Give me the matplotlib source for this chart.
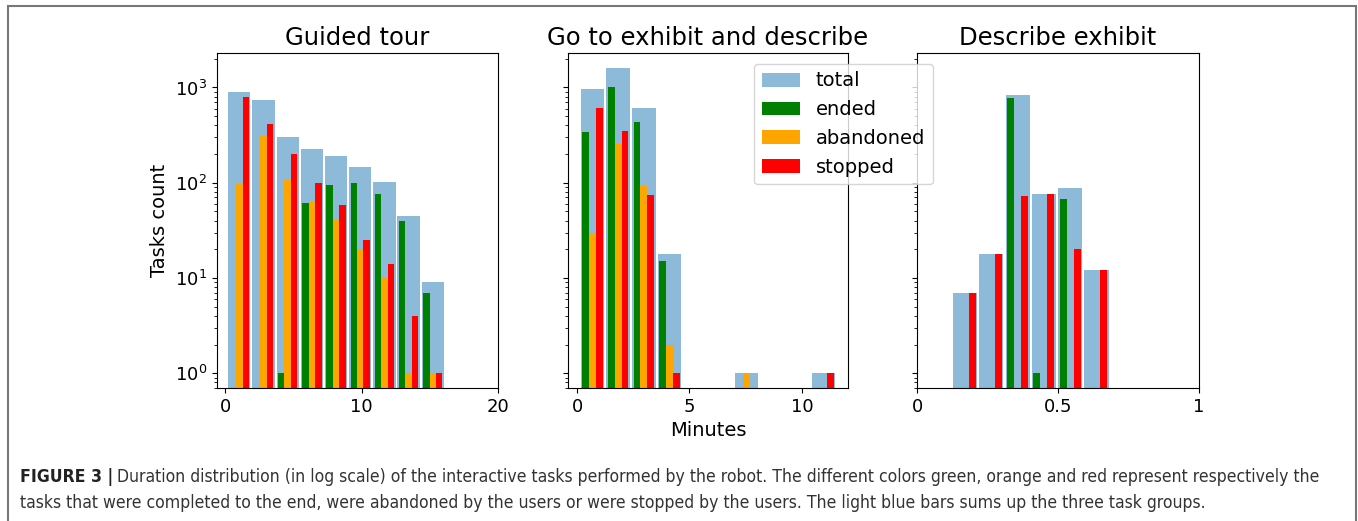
import numpy as np
import matplotlib
matplotlib.use("Agg")
import matplotlib.pyplot as plt
from matplotlib import font_manager
from matplotlib.font_manager import FontProperties
from matplotlib.patches import Patch, Rectangle

# bin counts per outcome (minutes histograms)
tour_range = (0.13, 16.1)
tour_ended = [0, 0, 1, 61, 94, 100, 77, 40, 7]
tour_abandoned = [100, 318, 106, 63, 41, 20, 10, 1, 1]
tour_stopped = [800, 414, 198, 100, 58, 25, 14, 4, 1]

goto_range = (0.12, 11.53)
goto_ended = [342, 1017, 439, 15, 0, 0, 0, 0, 0, 0]
goto_abandoned = [30, 252, 92, 2, 0, 0, 1, 0, 0, 0]
goto_stopped = [602, 345, 74, 1, 0, 0, 0, 0, 0, 1]

desc_range = (0.124, 0.683)
desc_ended = [0, 0, 767, 1, 67, 0]
desc_abandoned = [0, 0, 0, 0, 0, 0]
desc_stopped = [7, 18, 73, 76, 20, 12]

titles = ["Guided tour", "Go to exhibit and describe", "Describe exhibit"]
labels = ["total", "ended", "abandoned", "stopped"]
colors = ["green", "orange", "red"]
total_color = "#1f77b4"

caption_bold = "FIGURE 3 |"
caption_line1 = ("Duration distribution (in log scale) of the interactive tasks performed by the robot. "
                 "The different colors green, orange and red represent respectively the")
caption_line2 = ("tasks that were completed to the end, were abandoned by the users or were stopped "
                 "by the users. The light blue bars sums up the three task groups.")

W, H = 1358, 521
fig = plt.figure(figsize=(W / 100, H / 100), dpi=100)

def px_axes(left, right, top, bottom):
    return [left / W, 1 - bottom / H, (right - left) / W, (bottom - top) / H]

ax1 = fig.add_axes(px_axes(217, 498, 53, 388))
ax2 = fig.add_axes(px_axes(568, 848, 53, 388), sharey=ax1)
ax3 = fig.add_axes(px_axes(917, 1199, 53, 388), sharey=ax1)

panels = [
    (ax1, tour_range, tour_ended, tour_abandoned, tour_stopped),
    (ax2, goto_range, goto_ended, goto_abandoned, goto_stopped),
    (ax3, desc_range, desc_ended, desc_abandoned, desc_stopped),
]

for ax, rng, ended, abandoned, stopped in panels:
    n = len(ended)
    edges = np.linspace(rng[0], rng[1], n + 1)
    mids = (edges[:-1] + edges[1:]) / 2
    total = np.array(ended) + np.array(abandoned) + np.array(stopped)
    ax.hist(mids, bins=edges, weights=total, color=total_color, alpha=0.5,
            rwidth=0.92, log=True)
    ax.hist([mids, mids, mids], bins=edges, weights=[ended, abandoned, stopped],
            color=colors, log=True)
    ax.tick_params(labelsize=13)

for ax, t in zip([ax1, ax2, ax3], titles):
    ax.set_title(t, fontsize=17.5)

ax1.set_ylim(0.7, 2300)
ax1.set_xlim(-0.62, 20)
ax1.set_xticks([0, 10, 20])
ax2.set_xticks([0, 5, 10])
ax3.set_xlim(0, 1)
ax3.set_xticks([0, 0.5, 1])
ax3.set_xticklabels(["0", "0.5", "1"])
plt.setp(ax2.get_yticklabels(), visible=False)
plt.setp(ax3.get_yticklabels(), visible=False)

ax1.set_ylabel("Tasks count", fontsize=14)
ax2.set_xlabel("Minutes", fontsize=14)

handles = [Patch(facecolor=total_color, alpha=0.5)] + [Patch(facecolor=c) for c in colors]
fig.legend(handles, labels, loc="upper left", fontsize=14,
           bbox_to_anchor=(744 / W, 1 - 54 / H))

# caption: prefer a condensed sans face, else Liberation Sans
def pick_font(weight):
    cands = [f for f in font_manager.fontManager.ttflist
             if f.style == "normal" and f.stretch in ("condensed", "semi-condensed")
             and f.name in ("Liberation Sans Narrow", "Noto Sans", "DejaVu Sans",
                            "Open Sans", "Roboto")]
    cands.sort(key=lambda f: (f.name != "Liberation Sans Narrow", abs(f.weight - weight)
                              if isinstance(f.weight, int) else 999))
    if cands and (not isinstance(cands[0].weight, int) or abs(cands[0].weight - weight) < 150):
        return FontProperties(fname=cands[0].fname)
    return FontProperties(family="Liberation Sans", weight=weight)

fp_reg = pick_font(400)
fp_bold = pick_font(700)

renderer = fig.canvas.get_renderer()
y1, y2 = 1 - 477 / H, 1 - 503 / H
x0, x_end = 20, 1316

def put_caption(size):
    fb = fp_bold.copy(); fb.set_size(size)
    fr = fp_reg.copy(); fr.set_size(size)
    b = fig.text(x0 / W, y1, caption_bold, fontproperties=fb, color="#222222", va="center")
    bx = b.get_window_extent(renderer).x1
    t1 = fig.text((bx + 0.3 * size) / W, y1, caption_line1, fontproperties=fr,
                  color="#333333", va="center")
    t2 = fig.text(x0 / W, y2, caption_line2, fontproperties=fr, color="#333333", va="center")
    return [b, t1, t2]

size = 13.5
texts = put_caption(size)
right = texts[1].get_window_extent(renderer).x1
for t in texts:
    t.remove()
size = size * (x_end - x0) / (right - x0)
put_caption(size)

# frame around the figure
fig.patches.append(Rectangle((8 / W, -0.05), (1356 - 8) / W, 1 - 6 / H + 0.05,
                             transform=fig.transFigure, fill=False,
                             edgecolor="#777777", linewidth=1.5, clip_on=False))

fig.savefig("out.png", dpi=100)
